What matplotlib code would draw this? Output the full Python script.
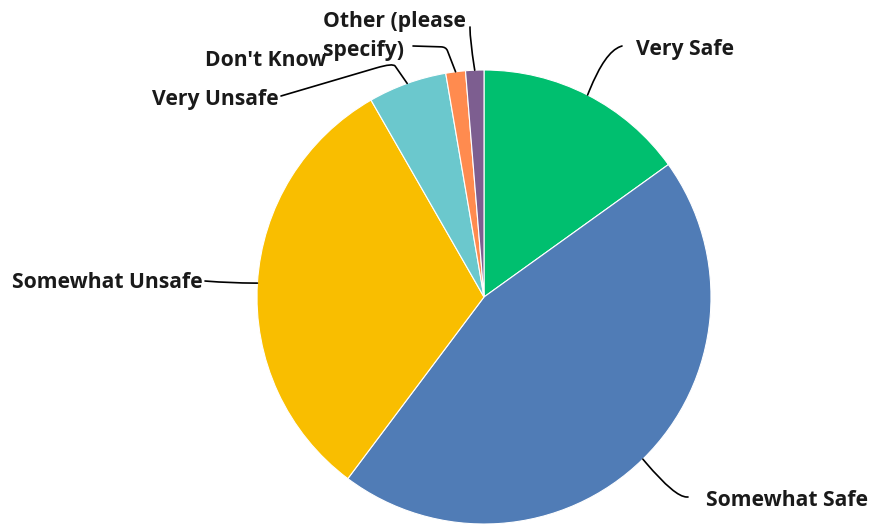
import numpy as np
import matplotlib
matplotlib.use("Agg")
import matplotlib.pyplot as plt
from matplotlib.path import Path
from matplotlib.patches import PathPatch

categories = ["Very Safe", "Somewhat Safe", "Somewhat Unsafe", "Very Unsafe",
              "Don't Know", "Other (please\nspecify)"]
values = [15.1, 45.2, 31.5, 5.6, 1.4, 1.3]
colors = ["#00BF6F", "#507CB6", "#F9BE00", "#6BC8CD", "#FF8B4F", "#7D5E90"]

W, H = 871, 525
fig = plt.figure(figsize=(W / 100, H / 100), dpi=100)
ax = fig.add_axes([0, 0, 1, 1])
cx, cy, R = 484, 297, 227

wedges, _ = ax.pie(values, colors=colors, startangle=90, counterclock=False,
                   radius=1.0, center=(0, 0), frame=True,
                   wedgeprops=dict(edgecolor="white", linewidth=0.8))
ax.set_xlim(-cx / R, (W - cx) / R)
ax.set_ylim(-(H - cy) / R, cy / R)
ax.set_aspect("equal")
ax.axis("off")

def px(x, y):
    return np.array([(x - cx) / R, (cy - y) / R])

# label layout: text anchor px, ha, corner px, end px
layout = [
    ((636, 50), "left", (605, 52), (622, 46)),
    ((706, 500), "left", (675, 497), (688, 497)),
    ((203, 282), "right", (230, 283), (205, 281)),
    ((279, 100), "right", (393, 63), (281, 96)),
    ((326, 60), "right", (446, 47), (413, 46)),
    ((323, 36), "left", (470, 40), (470, 27)),
]

font = dict(family=["Open Sans", "DejaVu Sans"], fontsize=15.2, fontweight="bold",
            color="#1a1a1a")

def rounded(p0, pc, p2, f=0.35):
    a = pc + (p0 - pc) * f
    b = pc + (p2 - pc) * f
    verts = [p0, a, pc, b, p2]
    codes = [Path.MOVETO, Path.LINETO, Path.CURVE3, Path.CURVE3, Path.LINETO]
    return Path(verts, codes)

for i, (w, lab, lay) in enumerate(zip(wedges, categories, layout)):
    mid = np.deg2rad((w.theta1 + w.theta2) / 2)
    s = np.array([np.cos(mid), np.sin(mid)])
    (tx, ty), ha, corner, end = lay
    f = 0.15 if i in (3, 4) else 0.9
    path = rounded(s, px(*corner), px(*end), f)
    ax.add_patch(PathPatch(path, fc="none", ec="black", lw=1.2, zorder=3,
                           capstyle="round", joinstyle="round"))
    ax.text(*px(tx, ty), lab, ha=ha, va="center", linespacing=1.55, **font)

fig.savefig("out.png", dpi=100)
